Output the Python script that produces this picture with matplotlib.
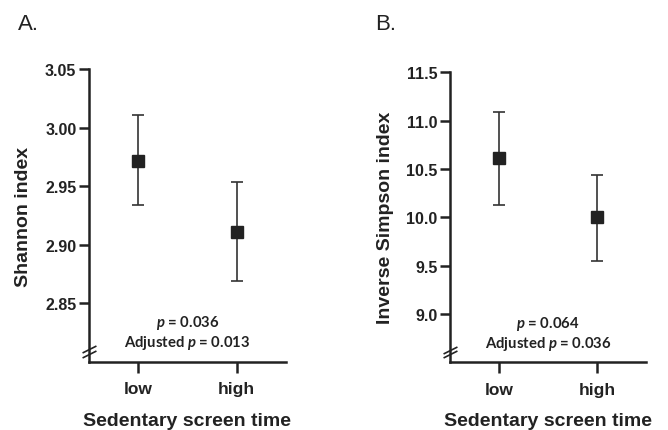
import matplotlib
matplotlib.use('Agg')
import matplotlib.pyplot as plt

plt.rcParams['font.family'] = 'Liberation Sans'
plt.rcParams['mathtext.fontset'] = 'custom'
plt.rcParams['mathtext.it'] = 'Lato:italic:bold'
plt.rcParams['mathtext.rm'] = 'Lato:bold'

groups = ['low', 'high']

shannon_mean = [2.972, 2.911]
shannon_lo = [2.934, 2.869]
shannon_hi = [3.011, 2.954]
shannon_ticks = [2.85, 2.90, 2.95, 3.00, 3.05]

simpson_mean = [10.61, 10.00]
simpson_lo = [10.13, 9.55]
simpson_hi = [11.09, 10.44]
simpson_ticks = [9.0, 9.5, 10.0, 10.5, 11.0, 11.5]

ink = '#222222'

fig = plt.figure(figsize=(6.68, 4.31), dpi=100)
ax1 = fig.add_axes([0.133, 0.158, 0.295, 0.679])
ax2 = fig.add_axes([0.674, 0.157, 0.293, 0.673])


def panel(ax, mean, lo, hi, ticks, ylim, fmt, ylabel, p_txt, adj_txt):
    x = list(range(len(groups)))
    err = [[m - l for m, l in zip(mean, lo)], [h - m for m, h in zip(mean, hi)]]
    ax.errorbar(x, mean, yerr=err, fmt='s', color=ink, ecolor='#333333',
                elinewidth=1.2, capsize=4, capthick=1.2, markersize=8, zorder=3)
    ax.set_xlim(-0.5, 1.5)
    ax.set_ylim(*ylim)
    ax.set_xticks(x)
    ax.set_xticklabels(groups)
    ax.set_yticks(ticks)
    ax.set_yticklabels([fmt % t for t in ticks])
    for s in ['top', 'right']:
        ax.spines[s].set_visible(False)
    for s in ['left', 'bottom']:
        ax.spines[s].set_linewidth(1.8)
        ax.spines[s].set_color(ink)
    ax.tick_params(axis='y', length=7, width=1.8, color=ink, labelsize=11.5, pad=2)
    ax.tick_params(axis='x', length=8, width=1.8, color=ink, labelsize=12.5, pad=6)
    for lab in ax.get_xticklabels() + ax.get_yticklabels():
        lab.set_fontweight('bold')
        lab.set_color(ink)
    ax.set_ylabel(ylabel, fontsize=14, fontweight='bold', color=ink, labelpad=9)
    ax.set_xlabel('Sedentary screen time', fontsize=14, fontweight='bold',
                  color=ink, labelpad=11)
    # axis break marks
    for yy in [0.028, 0.044]:
        ax.plot([0], [yy], transform=ax.transAxes, marker=[(-1, -0.5), (1, 0.5)],
                markersize=10, markeredgewidth=1.2, color=ink, clip_on=False)
    ax.text(0.5, 0.136, p_txt, transform=ax.transAxes, ha='center', va='center',
            fontsize=10.7, family='Lato', fontweight='bold', color=ink)
    ax.text(0.5, 0.067, adj_txt, transform=ax.transAxes, ha='center', va='center',
            fontsize=10.7, family='Lato', fontweight='bold', color=ink)


panel(ax1, shannon_mean, shannon_lo, shannon_hi, shannon_ticks, (2.80, 3.05),
      '%.2f', 'Shannon index', r'$p$ = 0.036', r'Adjusted $p$ = 0.013')
panel(ax2, simpson_mean, simpson_lo, simpson_hi, simpson_ticks, (8.5, 11.5),
      '%.1f', 'Inverse Simpson index', r'$p$ = 0.064', r'Adjusted $p$ = 0.036')

fig.text(18 / 668, 1 - 25 / 431, 'A.', fontsize=16, va='center', ha='left', color=ink)
fig.text(375 / 668, 1 - 25 / 431, 'B.', fontsize=16, va='center', ha='left', color=ink)

fig.savefig('out.png', dpi=100, facecolor='white')
